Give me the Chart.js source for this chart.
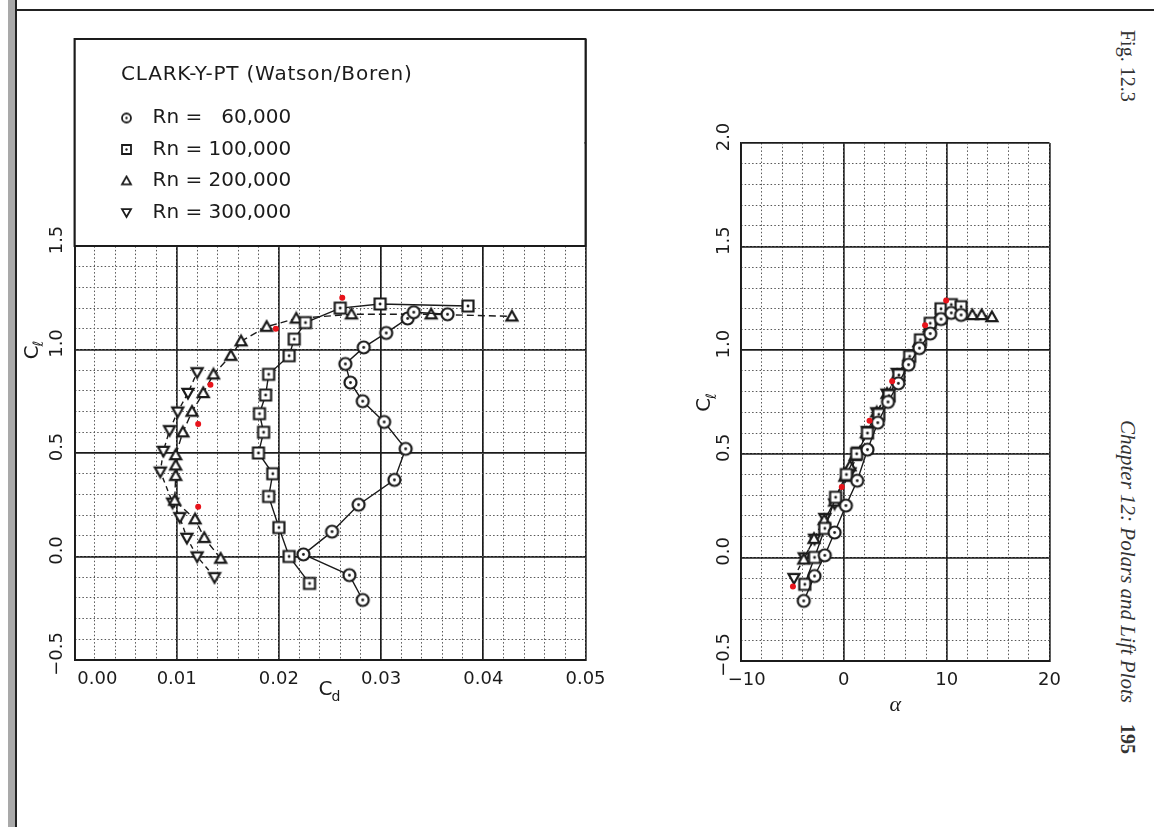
<!DOCTYPE html>
<html>
<head>
<meta charset="utf-8">
<title>CLARK-Y-PT polars</title>
<script src="https://cdn.jsdelivr.net/npm/chart.js@4.4.1/dist/chart.umd.min.js"></script>
<style>
  html, body { margin: 0; padding: 0; background: #fff; }
  body { position: relative; width: 1154px; height: 827px; overflow: hidden; }
  #edge { position: absolute; left: 8px; top: 0; width: 7px; height: 827px; background: #a9a9a9; border-right: 2px solid #222; }
  #rule { position: absolute; left: 15px; right: 0; top: 9px; border-top: 2px solid #222; }
  canvas { position: absolute; top: 0; }
  #polar { left: 0; }
  #lift { left: 660px; }
  .side { position: absolute; writing-mode: vertical-rl; font-family: "Liberation Serif", "DejaVu Serif", serif; color: #333; line-height: 22px; white-space: nowrap; }
</style>
</head>
<body>
<div id="edge"></div>
<div id="rule"></div>
<canvas id="polar" width="620" height="740"></canvas>
<canvas id="lift" width="420" height="740"></canvas>
<div class="side" style="left:1117px; top:30px; font-size:20px;">Fig. 12.3</div>
<div class="side" style="left:1117px; top:420px; font-size:21px; font-style:italic;">Chapter 12: Polars and Lift Plots</div>
<div class="side" style="left:1117px; top:724px; font-size:20px; font-weight:bold;">195</div>
<script>
// CLARK-Y-PT (Watson/Boren) - values
const seriesNames = ['Rn = \u200760,000', 'Rn = 100,000', 'Rn = 200,000', 'Rn = 300,000'];

const alpha60 = [-3.9, -2.85, -1.85, -0.9, 0.2, 1.3, 2.3, 3.3, 4.3, 5.3, 6.3, 7.35, 8.4, 9.45, 10.45, 11.4];
const cl60    = [-0.21, -0.09, 0.01, 0.12, 0.25, 0.37, 0.52, 0.65, 0.75, 0.84, 0.93, 1.01, 1.08, 1.15, 1.18, 1.17];
const cd60    = [0.0282, 0.0269, 0.0224, 0.0252, 0.0278, 0.0313, 0.0324, 0.0303, 0.0282, 0.0270, 0.0265, 0.0283, 0.0305, 0.0326, 0.0332, 0.0365];

const alpha100 = [-3.8, -2.85, -1.85, -0.8, 0.25, 1.25, 2.3, 3.4, 4.4, 5.35, 6.4, 7.45, 8.4, 9.45, 10.45, 11.4];
const cl100    = [-0.13, 0.00, 0.14, 0.29, 0.40, 0.50, 0.60, 0.69, 0.78, 0.88, 0.97, 1.05, 1.13, 1.20, 1.22, 1.21];
const cd100    = [0.0230, 0.0210, 0.0200, 0.0190, 0.0194, 0.0180, 0.0185, 0.0181, 0.0187, 0.0190, 0.0210, 0.0215, 0.0226, 0.0260, 0.0299, 0.0385];

const alpha200 = [-3.9, -2.9, -1.9, -0.9, 0.1, 0.6, 1.1, 2.2, 3.2, 4.2, 5.2, 6.3, 7.3, 8.3, 9.4, 12.5, 13.4, 14.4];
const cl200    = [-0.01, 0.09, 0.18, 0.27, 0.39, 0.44, 0.49, 0.60, 0.70, 0.79, 0.88, 0.97, 1.04, 1.11, 1.15, 1.17, 1.17, 1.16];
const cd200    = [0.0143, 0.0127, 0.0118, 0.0098, 0.0099, 0.0099, 0.0099, 0.0106, 0.0115, 0.0126, 0.0136, 0.0153, 0.0163, 0.0188, 0.0217, 0.0271, 0.0349, 0.0428];

const alpha300 = [-4.85, -3.85, -2.85, -1.85, -0.9, 0.6, 1.4, 2.3, 3.2, 4.2, 5.2];
const cl300    = [-0.10, 0.00, 0.09, 0.19, 0.26, 0.41, 0.51, 0.61, 0.70, 0.79, 0.89];
const cd300    = [0.0137, 0.0120, 0.0110, 0.0103, 0.0096, 0.0084, 0.0087, 0.0093, 0.0101, 0.0111, 0.0120];

// red dots marked on the scan
const redCd      = [0.0262, 0.0197, 0.0133, 0.0121, 0.0121];
const redClPolar = [1.25, 1.10, 0.83, 0.64, 0.24];
const redAlpha   = [-4.95, -0.2, 2.5, 4.7, 7.9, 9.95];
const redClLift  = [-0.14, 0.34, 0.66, 0.85, 1.12, 1.24];

const cdTicks    = ['0.00', '0.01', '0.02', '0.03', '0.04', '0.05'];
const clTicks    = ['\u22120.5', '0.0', '0.5', '1.0', '1.5', '2.0'];
const alphaTicks = ['\u221210', '0', '10', '20'];

const ink = '#1b1b1b';
const tickFont = { family: 'DejaVu Sans', size: 18 };

function makeMarker(shape, size, lw) {
  const c = document.createElement('canvas');
  const n = Math.ceil(size + lw + 2);
  c.width = c.height = n;
  const g = c.getContext('2d');
  const m = n / 2, h = size / 2;
  g.lineWidth = lw;
  g.strokeStyle = ink;
  g.fillStyle = '#fff';
  g.beginPath();
  if (shape === 'circle') {
    g.arc(m, m, h, 0, Math.PI * 2);
  } else if (shape === 'square') {
    g.rect(m - h, m - h, size, size);
  } else if (shape === 'up') {
    g.moveTo(m, m - h); g.lineTo(m + h, m + h * 0.75); g.lineTo(m - h, m + h * 0.75); g.closePath();
  } else {
    g.moveTo(m, m + h); g.lineTo(m + h, m - h * 0.75); g.lineTo(m - h, m - h * 0.75); g.closePath();
  }
  g.fill();
  g.stroke();
  if (shape === 'circle' || shape === 'square') {
    g.fillStyle = ink;
    g.beginPath();
    g.arc(m, m, lw * 0.65, 0, Math.PI * 2);
    g.fill();
  }
  return c;
}

const shapes = ['circle', 'square', 'up', 'down'];
const bigMarkers = shapes.map(s => makeMarker(s, s === 'circle' ? 12 : 11, 2.2));
const smallMarkers = shapes.map(s => makeMarker(s, 9, 1.8));
const dashes = [[], [], [7, 4], [5, 4]];

function pts(xs, ys) {
  return xs.map((x, i) => ({ x: x, y: ys[i] }));
}

function series(i, xs, ys) {
  return {
    label: seriesNames[i],
    data: pts(xs, ys),
    showLine: true,
    borderColor: ink,
    borderWidth: 1.4,
    borderDash: dashes[i],
    pointStyle: bigMarkers[i],
    pointRadius: 6
  };
}

function redDots(xs, ys) {
  return {
    label: 'marked',
    data: pts(xs, ys),
    showLine: false,
    pointStyle: 'circle',
    pointRadius: 3,
    backgroundColor: '#e8141b',
    borderWidth: 0
  };
}

// first tick label of a horizontal axis is pushed inside the frame on the scan
function tickText(labels, lead) {
  return (v, i) => {
    const t = labels[i] ?? '';
    return i === 0 && lead ? '\u2007'.repeat(lead) + t : t;
  };
}

function scaleSet(x, y) {
  const major = (ax, horiz) => ({
    type: 'linear',
    position: horiz ? 'bottom' : 'left',
    min: ax.min, max: ax.max, z: 0,
    ticks: Object.assign({
      stepSize: ax.major, font: tickFont, color: ink, autoSkip: false,
      callback: tickText(ax.labels, ax.lead)
    }, horiz ? { padding: 9, maxRotation: 0 } : { padding: -5, labelOffset: -6, minRotation: 90, maxRotation: 90, crossAlign: 'center' }),
    grid: { color: ink, lineWidth: 1.7, drawTicks: false },
    border: { color: ink, width: 1.9 },
    afterFit: s => { if (horiz) s.height = 50; else s.width = ax.width; }
  });
  const minor = (ax, horiz) => ({
    type: 'linear',
    position: horiz ? 'bottom' : 'left',
    min: ax.min, max: ax.max, z: -1,
    ticks: { display: false, stepSize: ax.minor },
    grid: { color: '#575757', lineWidth: 1, drawTicks: false },
    border: { display: false, dash: [1.5, 2.2] },
    afterFit: s => { if (horiz) s.height = 0; else s.width = 0; }
  });
  return { x: major(x, true), xm: minor(x, true), y: major(y, false), ym: minor(y, false) };
}

function drawTitle(ctx, t, x, y, rot) {
  ctx.save();
  ctx.translate(x, y);
  ctx.rotate(rot);
  ctx.textBaseline = 'middle';
  ctx.textAlign = 'left';
  const mainFont = (t.italic ? 'italic ' : '') + t.size + 'px ' + t.family;
  const subFont = (t.size - 6) + 'px ' + t.family;
  ctx.font = mainFont;
  const w = ctx.measureText(t.main).width;
  ctx.font = subFont;
  const ws = t.sub ? ctx.measureText(t.sub).width : 0;
  const x0 = -(w + ws) / 2;
  ctx.font = mainFont;
  ctx.fillText(t.main, x0, 0);
  if (t.sub) {
    ctx.font = subFont;
    ctx.fillText(t.sub, x0 + w - 1, 7);
  }
  ctx.restore();
}

const axisTitles = {
  id: 'axisTitles',
  afterDraw(chart, args, opts) {
    const { ctx, chartArea: a } = chart;
    ctx.save();
    ctx.fillStyle = ink;
    drawTitle(ctx, opts.x, (a.left + a.right) / 2, a.bottom + opts.x.gap, 0);
    drawTitle(ctx, opts.y, a.left - opts.y.gap, (a.top + a.bottom) / 2, -Math.PI / 2);
    ctx.restore();
  }
};

const legendBox = {
  id: 'legendBox',
  beforeDatasetsDraw(chart, args, opts) {
    const { ctx, chartArea: a, scales } = chart;
    const yb = scales.y.getPixelForValue(opts.below);
    ctx.save();
    ctx.fillStyle = '#fff';
    ctx.fillRect(a.left + 1, a.top + 1, a.right - a.left - 2, yb - a.top - 2);
    ctx.strokeStyle = ink;
    ctx.lineWidth = 1.9;
    ctx.strokeRect(a.left, a.top, a.right - a.left, yb - a.top);
    ctx.fillStyle = ink;
    ctx.textBaseline = 'middle';
    ctx.textAlign = 'left';
    ctx.font = '20px "DejaVu Sans"';
    if ('letterSpacing' in ctx) ctx.letterSpacing = '0.8px';
    ctx.fillText(opts.title, a.left + 46.5, a.top + 35.5);
    if ('letterSpacing' in ctx) ctx.letterSpacing = '0px';
    seriesNames.forEach((name, i) => {
      const yy = a.top + 79 + i * 31.5;
      const m = smallMarkers[i];
      ctx.drawImage(m, a.left + 52 - m.width / 2, yy - m.height / 2);
      ctx.fillText(name, a.left + 78, yy);
    });
    ctx.restore();
  }
};

const common = {
  responsive: false,
  animation: false,
  events: [],
  plugins: { legend: { display: false }, tooltip: { enabled: false } }
};

new Chart(document.getElementById('polar'), {
  type: 'scatter',
  data: {
    datasets: [
      redDots(redCd, redClPolar),
      series(0, cd60, cl60),
      series(1, cd100, cl100),
      series(2, cd200, cl200),
      series(3, cd300, cl300)
    ]
  },
  options: Object.assign({}, common, {
    layout: { padding: { left: 0, right: 34.5, top: 39, bottom: 30 } },
    scales: scaleSet(
      { min: 0, max: 0.05, major: 0.01, minor: 0.002, labels: cdTicks, lead: 4 },
      { min: -0.5, max: 2.5, major: 0.5, minor: 0.1, labels: clTicks.slice(0, 5), width: 74.5 }
    ),
    plugins: Object.assign({}, common.plugins, {
      legendBox: { title: 'CLARK-Y-PT (Watson/Boren)', below: 1.5 },
      axisTitles: {
        x: { main: 'C', sub: 'd', size: 20, family: '"DejaVu Sans"', gap: 30 },
        y: { main: 'C', sub: '\u2113', size: 20, family: '"DejaVu Sans"', gap: 42 }
      }
    })
  }),
  plugins: [legendBox, axisTitles]
});

new Chart(document.getElementById('lift'), {
  type: 'scatter',
  data: {
    datasets: [
      redDots(redAlpha, redClLift),
      series(0, alpha60, cl60),
      series(1, alpha100, cl100),
      series(2, alpha200, cl200),
      series(3, alpha300, cl300)
    ]
  },
  options: Object.assign({}, common, {
    layout: { padding: { left: 0, right: 30.5, top: 143, bottom: 29 } },
    scales: scaleSet(
      { min: -10, max: 20, major: 10, minor: 2, labels: alphaTicks, lead: 1 },
      { min: -0.5, max: 2.0, major: 0.5, minor: 0.1, labels: clTicks, width: 81 }
    ),
    plugins: Object.assign({}, common.plugins, {
      axisTitles: {
        x: { main: '\u03b1', sub: '', size: 22, italic: true, family: '"Liberation Serif"', gap: 44 },
        y: { main: 'C', sub: '\u2113', size: 20, family: '"DejaVu Sans"', gap: 36 }
      }
    })
  }),
  plugins: [axisTitles]
});
</script>
</body>
</html>
